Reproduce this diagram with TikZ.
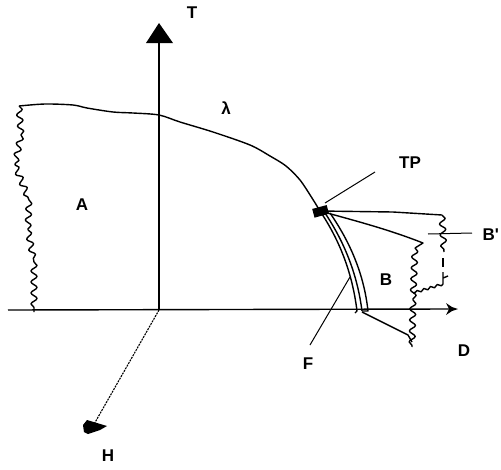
\documentclass[tikz,border=0pt]{standalone}
\usepackage{fontspec}
\newfontfamily\lblfont{Liberation Sans}
\usetikzlibrary{decorations.pathmorphing}
\begin{document}
\begin{tikzpicture}[x=1pt,y=-1pt,line width=1.4pt,line join=round,
  lbl/.style={font=\lblfont\fontsize{17}{17}\selectfont\bfseries,inner sep=0pt},
  wavy/.style={decorate,decoration={snake,segment length=11pt,amplitude=3pt}},
  fine/.style={line width=1pt},
  dotline/.style={line width=1.1pt,dash pattern=on 2pt off 1pt}]
\useasboundingbox (0,0) rectangle (501,469);
% key points
\coordinate (O) at (159,310);
\coordinate (Ytop) at (159,42);
\coordinate (Xl) at (8,310);
\coordinate (Xr) at (450,309);
\coordinate (L0) at (19,106);
\coordinate (TP) at (320,211);
\coordinate (Hend) at (93,426);
% labels
\node[lbl] (T) at (192,13) {T};
\node[lbl] (lam) at (226,108) {λ};
\node[lbl] (A) at (82,205) {A};
\node[lbl] (TPl) at (410,163) {TP};
\node[lbl,anchor=west] (Bp) at (482,235) {B'};
\node[lbl] (B) at (386,280) {B};
\node[lbl] (D) at (464,351) {D};
\node[lbl] (F) at (308,364) {F};
\node[lbl] (H) at (108,456) {H};
% axes
\draw (O) -- (Ytop);
\fill (159,23) -- (173,43) -- (146,43) -- cycle;
\draw (Xl) -- (Xr);
\fill (446,303) -- (452,307) -- (458,309) -- (452,311) -- (446,315) -- (449,309) -- cycle;
\draw[dotline] (O) -- (Hend);
\fill (83,425) -- (87,420) -- (97,423) -- (107,426) -- (100,430) -- (88,434) -- (84,432) -- cycle;
% lambda line
\draw plot[smooth,tension=0.5] coordinates {(L0) (45,104) (73,105) (87,108) (113,112) (133,113) (159,115) (180,122) (213,132) (250,145) (270,156) (286,166) (300,180) (312,198) (TP)};
% left wavy boundary
\draw[wavy] (L0) -- (21,135);
\draw[wavy] (21,135) -- (15,165);
\draw[wavy] (15,165) -- (29,200);
\draw[wavy] (29,200) -- (28,230);
\draw[wavy] (28,230) -- (34,262);
\draw[wavy] (34,262) -- (34,312);
% triple point marker
\fill[rotate around={15:(TP)}] (313,207) rectangle (328,216);
\draw[fine] (325,203) -- (375,172);
% lines out of TP
\draw (TP) -- (393,212) -- (442,215);
\draw (TP) .. controls (360,222) and (390,230) .. (423,243) -- (415,248);
\draw[wavy] (415,248) -- (413,300);
\draw[wavy] (413,300) -- (412,347);
% B' boundary
\draw[wavy] (442,215) -- (444,252);
\draw (443,258) -- (443,267);
\draw (443,272) -- (443,284) (443,278) -- (448,276);
\draw[decorate,decoration={snake,segment length=7pt,amplitude=1.2pt}] (443,284) -- (413,293);
\draw[fine] (428,234) -- (472,233);
% F boundary curves
\draw (TP) .. controls (338,238) and (352,270) .. (357,311) -- (355,313);
\draw (325,213) .. controls (343,240) and (357,272) .. (362,311);
\draw (330,213) .. controls (350,242) and (364,274) .. (368,311) -- (362,311);
\draw (362,312) -- (408,335) -- (412,342);
\draw[fine] (310,345) -- (350,277);
\end{tikzpicture}
\end{document}
